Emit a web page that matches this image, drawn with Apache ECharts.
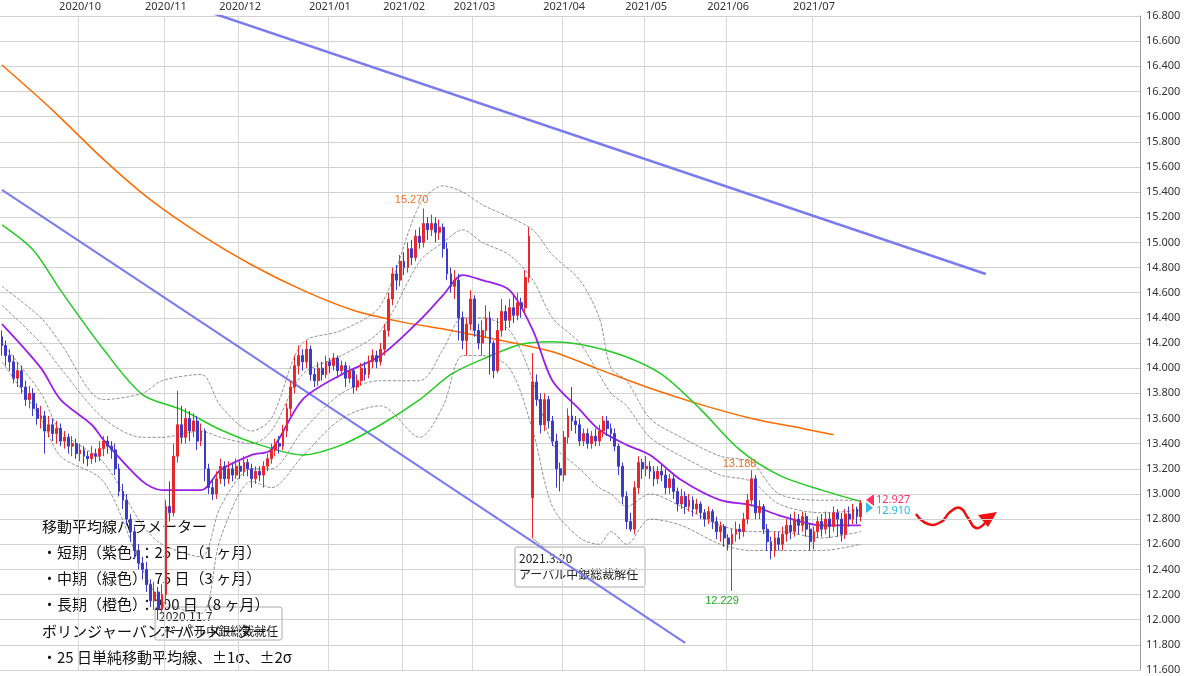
<!DOCTYPE html>
<html><head><meta charset="utf-8">
<script src="https://cdn.jsdelivr.net/npm/echarts@6/dist/echarts.min.js"></script>
<style>html,body{margin:0;padding:0;background:#fff}#c{width:1200px;height:676px}</style>
</head><body><div id="c"></div>
<script>
// OHLC rows: [open, close, low, high]
const candles = [
[14.25,14.18,14.10,14.30],[14.18,14.10,14.02,14.22],[14.10,14.05,13.98,14.15],[14.05,13.92,13.88,14.10],[13.92,13.98,13.85,14.05],
[13.98,13.85,13.80,14.02],[13.85,13.75,13.70,13.90],[13.75,13.80,13.68,13.86],[13.80,13.68,13.62,13.84],[13.68,13.60,13.55,13.72],
[13.60,13.62,13.52,13.70],[13.62,13.50,13.32,13.66],[13.50,13.55,13.45,13.62],[13.55,13.48,13.42,13.60],[13.48,13.52,13.40,13.58],
[13.52,13.42,13.38,13.56],[13.42,13.45,13.36,13.50],[13.45,13.38,13.32,13.48],[13.38,13.40,13.30,13.46],[13.40,13.32,13.28,13.44],
[13.32,13.35,13.26,13.40],[13.35,13.30,13.24,13.38],[13.30,13.28,13.22,13.34],[13.28,13.32,13.24,13.38],[13.32,13.30,13.25,13.36],
[13.30,13.36,13.26,13.42],[13.36,13.42,13.30,13.46],[13.42,13.38,13.32,13.46],[13.38,13.35,13.28,13.42],[13.35,13.20,13.15,13.40],
[13.20,13.02,12.98,13.24],[13.02,12.95,12.88,13.08],[12.95,12.80,12.75,13.00],[12.80,12.70,12.62,12.84],[12.70,12.55,12.48,12.74],
[12.55,12.45,12.40,12.60],[12.45,12.40,12.32,12.50],[12.40,12.28,12.22,12.46],[12.28,12.15,12.10,12.32],[12.15,12.22,12.08,12.30],
[12.22,12.08,12.00,12.26],[12.08,12.20,12.05,12.28],[12.20,12.90,12.12,12.95],[12.90,12.85,12.78,13.10],[12.85,13.30,12.82,13.40],
[13.30,13.55,13.25,13.82],[13.55,13.45,13.40,13.70],[13.45,13.60,13.40,13.68],[13.60,13.50,13.42,13.66],[13.50,13.58,13.45,13.64],
[13.58,13.42,13.35,13.62],[13.42,13.50,13.38,13.56],[13.50,13.20,13.10,13.52],[13.20,13.05,13.00,13.24],[13.05,13.00,12.95,13.12],
[13.00,13.12,12.96,13.18],[13.12,13.22,13.08,13.28],[13.22,13.12,13.06,13.26],[13.12,13.20,13.08,13.26],[13.20,13.15,13.10,13.24],
[13.15,13.22,13.12,13.28],[13.22,13.18,13.12,13.26],[13.18,13.25,13.14,13.30],[13.25,13.20,13.14,13.28],[13.20,13.12,13.05,13.24],
[13.12,13.18,13.08,13.22],[13.18,13.15,13.10,13.22],[13.15,13.22,13.05,13.26],[13.22,13.28,13.18,13.32],[13.28,13.35,13.24,13.40],
[13.35,13.40,13.30,13.44],[13.40,13.38,13.32,13.46],[13.38,13.50,13.35,13.55],[13.50,13.68,13.45,13.72],[13.68,13.85,13.62,13.90],
[13.85,14.02,13.80,14.10],[14.02,14.10,13.95,14.18],[14.10,14.05,13.98,14.15],[14.05,14.15,14.00,14.22],[14.15,13.95,13.90,14.18],
[13.95,13.90,13.85,14.00],[13.90,14.00,13.86,14.05],[14.00,13.95,13.90,14.05],[13.95,14.05,13.92,14.10],[14.05,14.02,13.96,14.08],
[14.02,14.08,13.98,14.12],[14.08,13.98,13.92,14.10],[13.98,14.02,13.94,14.06],[14.02,13.92,13.85,14.05],[13.92,13.98,13.88,14.02],
[13.98,13.85,13.80,14.00],[13.85,13.90,13.82,13.95],[13.90,14.00,13.86,14.04],[14.00,13.95,13.90,14.05],[13.95,14.05,13.92,14.10],
[14.05,14.10,14.00,14.15],[14.10,14.05,14.00,14.14],[14.05,14.15,14.02,14.20],[14.15,14.30,14.10,14.35],[14.30,14.55,14.25,14.60],
[14.55,14.75,14.50,14.80],[14.75,14.70,14.62,14.82],[14.70,14.85,14.65,14.90],[14.85,14.80,14.74,14.92],[14.80,14.95,14.76,15.00],
[14.95,14.88,14.82,15.02],[14.88,15.05,14.85,15.10],[15.05,15.00,14.95,15.12],[15.00,15.15,14.96,15.27],[15.15,15.10,15.02,15.20],
[15.10,15.15,15.05,15.22],[15.15,15.08,15.00,15.20],[15.08,15.12,15.02,15.18],[15.12,14.95,14.88,15.15],[14.95,14.75,14.70,15.00],
[14.75,14.65,14.60,14.80],[14.65,14.70,14.55,14.78],[14.70,14.40,14.22,14.75],[14.40,14.22,14.15,14.45],[14.22,14.35,14.10,14.40],
[14.35,14.55,14.30,14.62],[14.55,14.30,14.25,14.58],[14.30,14.20,14.15,14.35],[14.20,14.30,14.10,14.38],[14.30,14.40,14.24,14.50],
[14.40,14.20,13.95,14.45],[14.20,13.98,13.92,14.22],[13.98,14.30,13.96,14.40],[14.30,14.45,14.25,14.55],[14.45,14.38,14.30,14.50],
[14.38,14.48,14.32,14.55],[14.48,14.42,14.36,14.58],[14.42,14.52,14.38,14.60],[14.52,14.48,14.40,14.56],[14.48,14.72,14.44,14.78],
[14.72,15.05,14.68,15.12],[12.97,13.89,12.65,14.12],[13.89,13.75,13.70,13.95],[13.75,13.55,13.48,13.80],[13.55,13.75,13.50,13.80],
[13.75,13.58,13.52,13.78],[13.58,13.42,13.38,13.62],[13.42,13.20,13.05,13.48],[13.20,13.15,13.02,13.25],[13.15,13.45,13.10,13.50],
[13.45,13.62,13.40,13.68],[13.62,13.58,13.50,13.85],[13.58,13.55,13.48,13.62],[13.55,13.42,13.38,13.60],[13.42,13.48,13.38,13.52],
[13.48,13.40,13.36,13.52],[13.40,13.46,13.36,13.50],[13.46,13.42,13.38,13.52],[13.42,13.50,13.38,13.55],[13.50,13.58,13.45,13.62],
[13.58,13.52,13.46,13.62],[13.52,13.48,13.42,13.56],[13.48,13.38,13.34,13.52],[13.38,13.22,13.15,13.40],[13.22,12.98,12.92,13.25],
[12.98,12.78,12.72,13.02],[12.78,12.72,12.70,12.85],[12.72,13.05,12.68,13.10],[13.05,13.25,13.00,13.30],[13.25,13.20,13.12,13.28],
[13.20,13.22,13.14,13.30],[13.22,13.18,13.12,13.26],[13.18,13.12,13.06,13.22],[13.12,13.18,13.08,13.22],[13.18,13.15,13.10,13.24],
[13.15,13.05,13.00,13.20],[13.05,13.12,13.00,13.16],[13.12,13.02,12.96,13.15],[13.02,12.92,12.86,13.05],[12.92,12.98,12.88,13.04],
[12.98,12.90,12.84,13.02],[12.90,12.95,12.86,13.00],[12.95,12.88,12.82,12.98],[12.88,12.92,12.84,12.96],[12.92,12.85,12.80,12.94],
[12.85,12.80,12.74,12.88],[12.80,12.86,12.76,12.90],[12.86,12.78,12.72,12.88],[12.78,12.70,12.64,12.82],[12.70,12.74,12.62,12.78],
[12.74,12.65,12.58,12.76],[12.65,12.60,12.55,12.68],[12.60,12.68,12.229,12.72],[12.68,12.72,12.62,12.78],[12.72,12.70,12.64,12.76],
[12.70,12.80,12.66,12.85],[12.80,12.95,12.76,13.00],[12.95,13.12,12.90,13.188],[13.12,12.85,12.80,13.15],[12.85,12.90,12.80,12.95],
[12.90,12.72,12.68,12.92],[12.72,12.62,12.55,12.76],[12.62,12.55,12.48,12.66],[12.55,12.65,12.50,12.70],[12.65,12.60,12.55,12.70],
[12.60,12.68,12.55,12.74],[12.68,12.75,12.62,12.80],[12.75,12.70,12.64,12.84],[12.70,12.80,12.66,12.86],[12.80,12.75,12.68,12.84],
[12.75,12.82,12.70,12.86],[12.82,12.72,12.66,12.85],[12.72,12.62,12.55,12.76],[12.62,12.70,12.56,12.74],[12.70,12.78,12.65,12.82],
[12.78,12.72,12.66,12.84],[12.72,12.80,12.68,12.86],[12.80,12.74,12.65,12.85],[12.74,12.85,12.70,12.90],[12.85,12.80,12.66,12.88],
[12.80,12.68,12.62,12.85],[12.68,12.84,12.64,12.88],[12.84,12.80,12.74,12.90],[12.80,12.88,12.76,12.92],[12.88,12.82,12.76,12.90],
[12.82,12.927,12.78,12.95]
];
const maIdx25 = [0,10,15,23,26,36,41,51,56,64,69,77,87,97,107,113,118,123,130,136,141,148,153,160,166,174,184,192,199,210,220];
const ma25 = [14.35,14.0,13.75,13.55,13.43,13.1,13.03,13.03,13.19,13.31,13.35,13.75,13.95,14.1,14.38,14.58,14.74,14.7,14.62,14.3,13.9,13.67,13.51,13.39,13.31,13.11,12.95,12.91,12.83,12.75,12.75];
const maIdx75 = [0,8,15,26,36,46,56,66,77,87,97,107,115,123,133,141,148,159,169,179,189,199,210,220];
const ma75 = [15.14,14.94,14.62,14.15,13.79,13.67,13.51,13.39,13.31,13.39,13.55,13.75,13.95,14.07,14.19,14.21,14.19,14.1,13.95,13.67,13.35,13.15,13.03,12.94];
const maIdx200 = [0,13,26,38,51,64,77,90,102,115,128,141,153,166,179,192,205,213];
const ma200 = [16.41,16.05,15.66,15.34,15.06,14.82,14.62,14.46,14.37,14.3,14.22,14.13,13.99,13.84,13.71,13.6,13.52,13.47];
const bbIdx = [0,10,15,26,36,41,51,56,64,69,77,87,97,107,113,118,123,130,136,141,148,153,156,160,166,174,184,192,199,210,220];
const bbU2 = [14.65,14.4,14.2,13.75,13.8,13.9,13.95,13.7,13.5,13.6,14.2,14.3,14.5,15.3,15.45,15.4,15.3,15.2,15.1,14.9,14.7,14.4,14.0,13.9,13.6,13.45,13.3,13.25,13.0,12.95,12.95];
const bbU1 = [14.5,14.2,14.0,13.6,13.45,13.45,13.5,13.45,13.4,13.5,13.95,14.1,14.3,14.85,15.0,15.1,15.0,14.9,14.7,14.4,14.2,13.95,13.8,13.7,13.45,13.3,13.15,13.1,12.92,12.85,12.87];
const bbL1 = [14.2,13.8,13.5,13.25,12.75,12.6,12.5,12.9,13.2,13.2,13.5,13.8,13.9,13.9,14.15,14.4,14.4,14.3,13.9,13.4,13.2,13.05,13.0,12.9,13.0,12.9,12.75,12.7,12.7,12.65,12.7];
const bbL2 = [14.05,13.6,13.3,13.1,12.4,12.15,12.05,12.65,13.1,13.05,13.3,13.6,13.7,13.45,13.7,14.1,14.1,14.0,13.5,12.9,12.65,12.6,12.7,12.6,12.8,12.75,12.6,12.55,12.55,12.55,12.6];
const trend1 = [[0,15.417],[175,11.816]];
const trend2 = [[50,16.864],[252,14.749]];
const yTicks = {min:11.6, max:16.8, step:0.2};
const holidays = ['2020/09/21','2020/09/22','2020/11/03','2020/11/23','2021/01/01','2021/01/11','2021/02/11','2021/02/23','2021/04/29'];
const lastLabelDate = '2021/07';

const cats = [];
{ let d = new Date(Date.UTC(2020,8,1)); while (cats.length < 292) { const w=d.getUTCDay(); const s=d.getUTCFullYear()+'/'+String(d.getUTCMonth()+1).padStart(2,'0')+'/'+String(d.getUTCDate()).padStart(2,'0'); if (w!==0&&w!==6&&!holidays.includes(s)){ cats.push(s); } d.setUTCDate(d.getUTCDate()+1);} }
const monthStart = new Set(); cats.forEach((c,i)=>{ if(i>0 && c.slice(0,7)!==cats[i-1].slice(0,7) && c.slice(0,7)<=lastLabelDate) monthStart.add(i); });
const pairs = (idx, vals) => idx.map((x,i)=>[x, vals[i]]);
const lineS = (data,color,w,type) => ({type:'line',data,symbol:'none',smooth:0.3,lineStyle:{color,width:w,type:type||'solid'},silent:true,z:3,clip:true});

const chart = echarts.init(document.getElementById('c'));
chart.setOption({
  animation:false,
  grid:{left:0,right:60,top:16,bottom:6},
  xAxis:{type:'category',data:cats,position:'top',boundaryGap:true,
    axisLine:{show:false},axisTick:{show:false},
    axisLabel:{interval:(i)=>monthStart.has(i),formatter:(v)=>v.slice(0,7),color:'#333',fontSize:11,margin:4,fontFamily:'Noto Sans'},
    splitLine:{show:true,interval:(i)=>monthStart.has(i),lineStyle:{color:'#d8d8d8'}}},
  yAxis:{type:'value',position:'right',min:yTicks.min,max:yTicks.max,interval:yTicks.step,
    axisLine:{show:true,lineStyle:{color:'#999'}},axisTick:{show:false},
    axisLabel:{formatter:(v)=>v.toFixed(3),color:'#333',fontSize:11,margin:6,fontFamily:'Noto Sans'},
    splitLine:{lineStyle:{color:'#d0d0d0'}}},
  series:[
    lineS(pairs(maIdx200,ma200),'#ff6a00',1.5),
    lineS(pairs(maIdx75,ma75),'#22cc22',1.5),
    lineS(pairs(bbIdx,bbU2),'#777',0.8,'dashed'),
    lineS(pairs(bbIdx,bbU1),'#777',0.8,'dashed'),
    lineS(pairs(bbIdx,bbL1),'#777',0.8,'dashed'),
    lineS(pairs(bbIdx,bbL2),'#777',0.8,'dashed'),
    lineS(pairs(maIdx25,ma25),'#9b1fe8',1.8),
    {type:'line',data:trend1,symbol:'none',lineStyle:{color:'#7b7bf0',width:2},silent:true,z:2},
    {type:'line',data:trend2,symbol:'none',lineStyle:{color:'#7b7bf0',width:2.5},silent:true,z:2},
    {type:'candlestick',data:candles,barWidth:'60%',z:5,
      itemStyle:{color:'#e8262b',color0:'#3b3bc8',borderColor:'#e8262b',borderColor0:'#3b3bc8',borderWidth:1},
      markPoint:{symbol:'circle',symbolSize:0,silent:true,data:[
        {coord:[108,15.27],label:{show:true,formatter:'15.270',color:'#f07020',fontSize:11,offset:[-12,-8]}},
        {coord:[192,13.188],label:{show:true,formatter:'13.188',color:'#f07020',fontSize:11,offset:[-12,-6]}},
        {coord:[187,12.229],label:{show:true,formatter:'12.229',color:'#22aa22',fontSize:11,offset:[-10,10]}}
      ]}}
  ],
  graphic:[
    {type:'polygon',shape:{points:[[866,500],[874,494],[874,506]]},style:{fill:'#ff3366'}},
    {type:'polygon',shape:{points:[[866,502],[873,508],[866,513]]},style:{fill:'#33bbee'}},
    {type:'text',left:876,top:494,style:{text:'12.927',fill:'#ff3366',font:'11px Noto Sans'}},
    {type:'text',left:876,top:505,style:{text:'12.910',fill:'#22bbee',font:'11px Noto Sans'}},
    {type:'polyline',shape:{points:[[916,514],[928,524],[941,522],[950,512],[960,508],[968,518],[976,528],[985,523]],smooth:0.5},style:{fill:null,stroke:'#ee1111',lineWidth:2.5}},
    {type:'polygon',shape:{points:[[978,515],[997,512],[988,527]]},style:{fill:'#ee1111'}},
    {type:'line',shape:{x1:532,y1:538,x2:545,y2:548},style:{stroke:'#999',lineWidth:1}},
    {type:'rect',shape:{x:515,y:547,width:130,height:40,r:2},style:{fill:'rgba(255,255,255,0.9)',stroke:'#aaa'}},
    {type:'text',left:519,top:550,style:{text:'2021.3.20\nアーバル中銀総裁解任',fill:'#222',font:'12px "Noto Sans CJK JP"',lineHeight:16}},
    {type:'rect',shape:{x:155,y:607,width:127,height:33,r:2},style:{fill:'rgba(255,255,255,0.6)',stroke:'#aaa'}},
    {type:'text',left:159,top:609,style:{text:'2020.11.7\nアーバル中銀総裁就任',fill:'#222',font:'12px "Noto Sans CJK JP"',lineHeight:15}},
    {type:'text',left:42,top:513,style:{text:'移動平均線パラメーター\n・短期（紫色）：25 日（1 ヶ月）\n・中期（緑色）：75 日（3 ヶ月）\n・長期（橙色）：200 日（8 ヶ月）\nボリンジャーバンドパラメーター\n・25 日単純移動平均線、±1σ、±2σ',fill:'#111',font:'15px "Noto Sans CJK JP"',lineHeight:26.2}}
  ]
});
</script></body></html>
